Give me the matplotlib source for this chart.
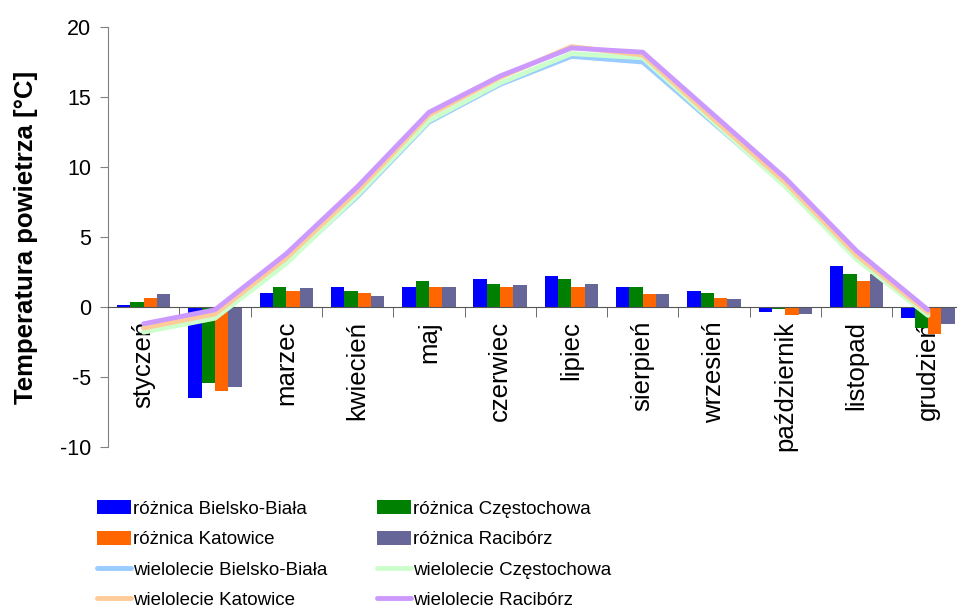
import numpy as np
import matplotlib
matplotlib.use("Agg")
import matplotlib.pyplot as plt
from matplotlib.patches import Patch
from matplotlib.lines import Line2D

months = ["styczeń", "luty", "marzec", "kwiecień", "maj", "czerwiec",
          "lipiec", "sierpień", "wrzesień", "październik", "listopad", "grudzień"]
stations = ["Bielsko-Biała", "Częstochowa", "Katowice", "Racibórz"]

# różnica (odchylenie) [°C]
diff_bb = [0.12, -6.5, 1.0, 1.43, 1.43, 2.0, 2.21, 1.43, 1.14, -0.33, 2.93, -0.76]
diff_cz = [0.34, -5.4, 1.43, 1.14, 1.86, 1.64, 2.0, 1.43, 1.0, -0.14, 2.36, -1.48]
diff_ka = [0.64, -6.0, 1.14, 1.0, 1.43, 1.43, 1.43, 0.93, 0.64, -0.57, 1.86, -1.9]
diff_ra = [0.95, -5.7, 1.36, 0.79, 1.43, 1.57, 1.64, 0.93, 0.57, -0.48, 2.36, -1.19]

# wielolecie [°C]
wiel_bb = [-1.5, -0.6, 3.2, 7.9, 13.2, 15.9, 17.9, 17.5, 13.1, 8.7, 3.5, -0.5]
wiel_cz = [-1.8, -0.8, 3.1, 8.0, 13.3, 16.0, 18.1, 17.8, 13.2, 8.6, 3.4, -0.6]
wiel_ka = [-1.5, -0.5, 3.5, 8.3, 13.7, 16.4, 18.6, 18.0, 13.4, 8.9, 3.7, -0.4]
wiel_ra = [-1.2, -0.2, 3.8, 8.6, 13.9, 16.5, 18.5, 18.2, 13.7, 9.2, 4.0, -0.2]

bar_colors = ["#0000FF", "#008000", "#FF6600", "#666699"]
line_colors = ["#99CCFF", "#CCFFCC", "#FFCC99", "#CC99FF"]

plt.rcParams["font.family"] = ["Liberation Sans", "DejaVu Sans"]
plt.rcParams["axes.unicode_minus"] = False

fig = plt.figure(figsize=(9.57, 6.08), dpi=100)
ax = fig.add_axes([108 / 957, 1 - 447 / 608, 855.6 / 957, 420 / 608])

x = np.arange(len(months))
w = 0.187
for i, vals in enumerate([diff_bb, diff_cz, diff_ka, diff_ra]):
    ax.bar(x + (i - 1.5) * w, vals, width=w, color=bar_colors[i], zorder=2)

for i, vals in enumerate([wiel_bb, wiel_cz, wiel_ka, wiel_ra]):
    ax.plot(x, vals, color=line_colors[i], lw=3.5, solid_capstyle="round",
            solid_joinstyle="round", zorder=3 + i)

ax.set_xlim(-0.5, 11.5)
ax.set_ylim(-10, 20)
ax.set_yticks(np.arange(-10, 21, 5))
ax.tick_params(axis="y", labelsize=15.5, direction="out", length=6,
               color="#808080", pad=6)

ax.spines["top"].set_visible(False)
ax.spines["right"].set_visible(False)
ax.spines["left"].set_color("#808080")
ax.spines["bottom"].set_position(("data", 0))
ax.spines["bottom"].set_color("#555555")

ax.set_xticks(x)
ax.set_xticklabels(months, rotation=90, fontsize=18.5, va="top", ha="center")
ax.set_xticks(np.arange(-0.5, 12, 1), minor=True)
ax.tick_params(axis="x", which="major", length=0, pad=10)
ax.tick_params(axis="x", which="minor", length=7, direction="out", color="#555555")

ax.set_ylabel("Temperatura powietrza [°C]", fontsize=18.5, fontweight="bold")
ax.yaxis.set_label_coords(-0.082, 0.5)

h_bars = [Patch(facecolor=c) for c in bar_colors]
h_lines = [Line2D([0], [0], color=c, lw=3.5, solid_capstyle="round") for c in line_colors]
lab_bars = ["różnica " + s for s in stations]
lab_lines = ["wielolecie " + s for s in stations]

common = dict(frameon=False, borderpad=0, borderaxespad=0, handlelength=1.8,
              handleheight=0.78, handletextpad=0.12, labelspacing=0.69,
              fontsize=13.5, loc="upper left")
fig.legend([h_bars[0], h_bars[2], h_lines[0], h_lines[2]],
           [lab_bars[0], lab_bars[2], lab_lines[0], lab_lines[2]],
           bbox_to_anchor=(97 / 957, 1 - 500 / 608), **common)
fig.legend([h_bars[1], h_bars[3], h_lines[1], h_lines[3]],
           [lab_bars[1], lab_bars[3], lab_lines[1], lab_lines[3]],
           bbox_to_anchor=(377 / 957, 1 - 500 / 608), **common)

fig.savefig("out.png", dpi=100)
